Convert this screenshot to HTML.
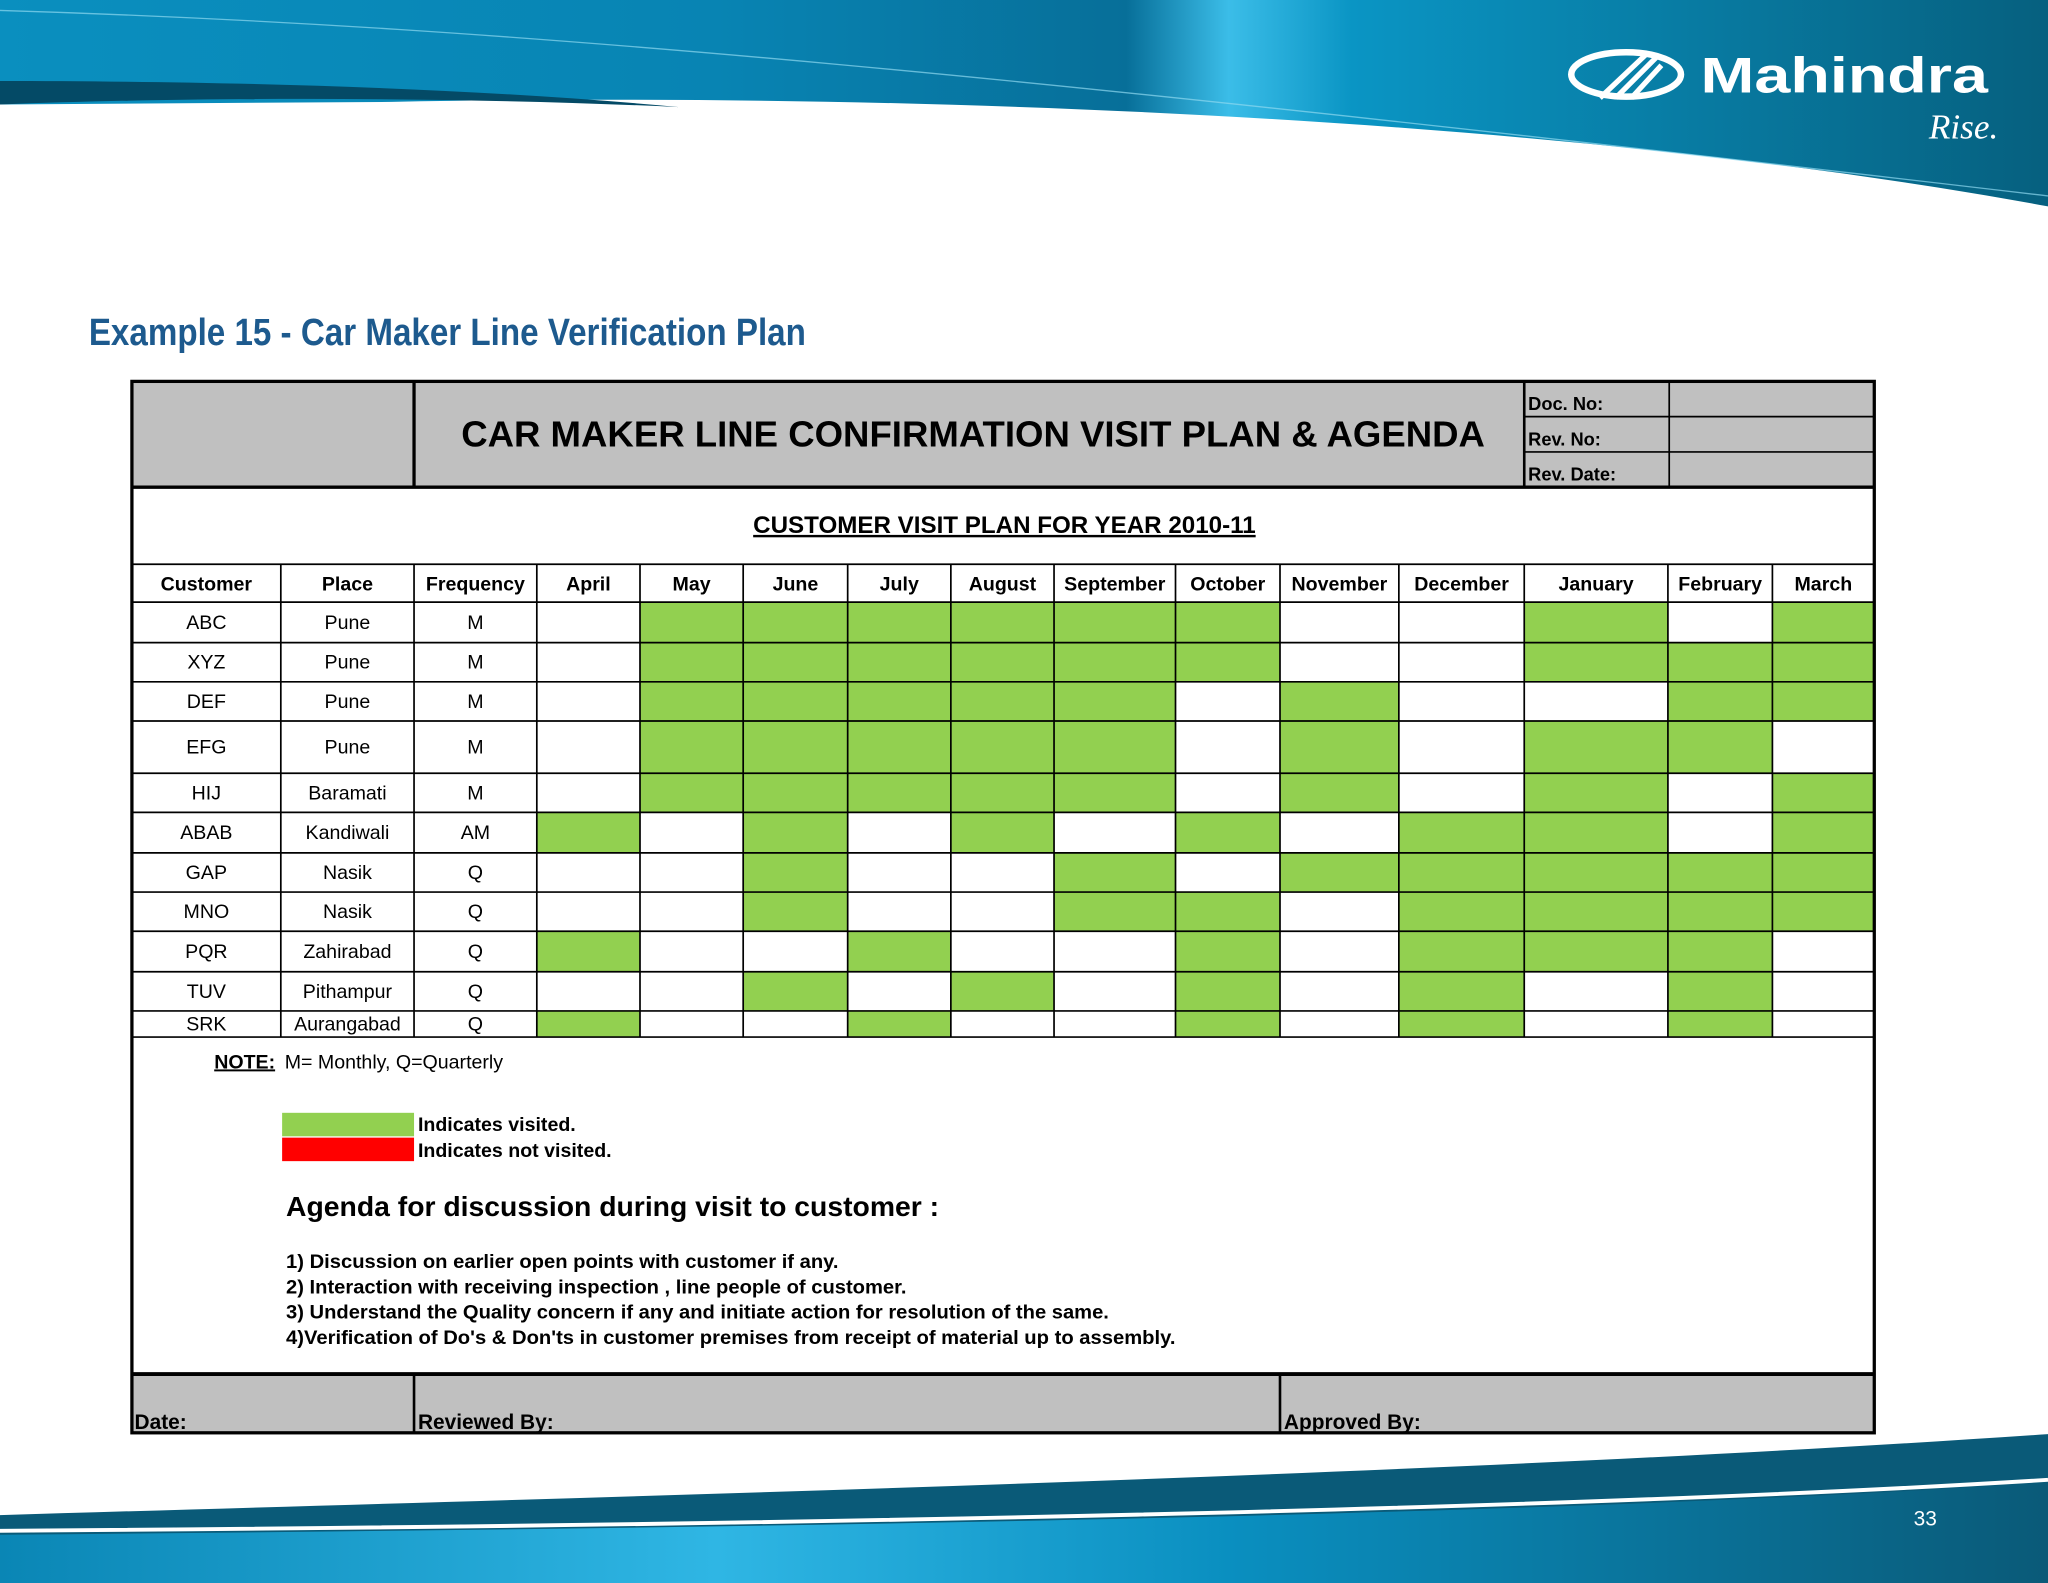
<!DOCTYPE html>
<html><head><meta charset="utf-8"><style>
html,body{margin:0;padding:0;background:#fff;}
#wrap{width:1568px;height:1211.2px;transform:scale(1.30612);transform-origin:0 0;position:relative;}
svg{display:block;font-family:"Liberation Sans",sans-serif;}
</style></head><body>
<div id="wrap">
<svg id="s" width="1568" height="1212" viewBox="0 0 1568 1212">
<defs>
<linearGradient id="gt" x1="0" x2="1" y1="0" y2="0">
<stop offset="0" stop-color="#0a8fbf"/><stop offset="0.35" stop-color="#0884b3"/><stop offset="0.55" stop-color="#076f99"/>
<stop offset="0.6" stop-color="#3bbde8"/><stop offset="0.66" stop-color="#0a95c4"/><stop offset="1" stop-color="#06607f"/></linearGradient>
<linearGradient id="gb" x1="0" x2="1" y1="0" y2="0">
<stop offset="0" stop-color="#0a86b5"/><stop offset="0.35" stop-color="#2fb6e4"/><stop offset="0.6" stop-color="#0a8fc0"/><stop offset="1" stop-color="#0a5a78"/></linearGradient>
</defs>
<g>
<path d="M0,0 H1568 V158 C1200,90 700,70 300,78 L0,80 Z" fill="url(#gt)"/>
<path d="M0,62 C150,62 350,66 520,82 C350,74 150,74 0,80 Z" fill="#044a66"/>
<path d="M0,8 C400,20 800,60 1568,150" stroke="#8fd8f0" stroke-width="1" fill="none" opacity="0.7"/>
</g>
<g>
<ellipse cx="1245" cy="57" rx="42" ry="17" fill="none" stroke="#fff" stroke-width="5"/>
<path d="M1225,75 L1262,40 M1237,75 L1268,44 M1249,75 L1272,50" stroke="#fff" stroke-width="4"/>
<text x="1302" y="71" fill="#fff" font-size="38" font-weight="bold" textLength="220" lengthAdjust="spacingAndGlyphs">Mahindra</text>
<text x="1530" y="106" fill="#fff" font-size="27" font-style="italic" text-anchor="end" font-family="Liberation Serif">Rise.</text>
</g>
<g>
<path d="M0,1160 C500,1145 1100,1130 1568,1098 V1212 H0 Z" fill="#0a5a78"/>
<path d="M0,1175 C600,1170 1200,1160 1568,1135 V1212 H0 Z" fill="url(#gb)"/>
<path d="M0,1172 C600,1168 1200,1156 1568,1133" stroke="#ffffff" stroke-width="3" fill="none"/>
<text x="1474" y="1168" fill="#fff" font-size="16" text-anchor="middle">33</text>
</g>
<text x="68" y="264" fill="#1d5a8e" font-size="29" font-weight="bold" textLength="549" lengthAdjust="spacingAndGlyphs">Example 15 - Car Maker Line Verification Plan</text>
<g id="tbl"></g>
</svg>
</div>
<script>
const customers=["ABC","XYZ","DEF","EFG","HIJ","ABAB","GAP","MNO","PQR","TUV","SRK"];
const places=["Pune","Pune","Pune","Pune","Baramati","Kandiwali","Nasik","Nasik","Zahirabad","Pithampur","Aurangabad"];
const freqs=["M","M","M","M","M","AM","Q","Q","Q","Q","Q"];
const months=["April","May","June","July","August","September","October","November","December","January","February","March"];
const visitedABC=[0,1,1,1,1,1,1,0,0,1,0,1];
const visitedXYZ=[0,1,1,1,1,1,1,0,0,1,1,1];
const visitedDEF=[0,1,1,1,1,1,0,1,0,0,1,1];
const visitedEFG=[0,1,1,1,1,1,0,1,0,1,1,0];
const visitedHIJ=[0,1,1,1,1,1,0,1,0,1,0,1];
const visitedABAB=[1,0,1,0,1,0,1,0,1,1,0,1];
const visitedGAP=[0,0,1,0,0,1,0,1,1,1,1,1];
const visitedMNO=[0,0,1,0,0,1,1,0,1,1,1,1];
const visitedPQR=[1,0,0,1,0,0,1,0,1,1,1,0];
const visitedTUV=[0,0,1,0,1,0,1,0,1,0,1,0];
const visitedSRK=[1,0,0,1,0,0,1,0,1,0,1,0];
const visits=[visitedABC,visitedXYZ,visitedDEF,visitedEFG,visitedHIJ,visitedABAB,visitedGAP,visitedMNO,visitedPQR,visitedTUV,visitedSRK];

const NS="http://www.w3.org/2000/svg";
const g=document.getElementById('tbl');
function mk(t,a,txt){const e=document.createElementNS(NS,t);for(const k in a)e.setAttribute(k,a[k]);if(txt!==undefined)e.textContent=txt;g.appendChild(e);return e;}
const colX=[101,215,317,411,490,569,649,728,807,900,980,1071,1167,1277,1357,1435];
const rowY=[461,492,522,552,592,622,653,683,713,744,774,794];
const L=101,R=1435;
let e;
e=mk('rect',{x:L,y:292,width:216,height:81,fill:'#c0c0c0'});

e=mk('rect',{x:317,y:292,width:850,height:81,fill:'#c0c0c0'});

e=mk('rect',{x:1167,y:292,width:268,height:81,fill:'#c0c0c0'});

e=mk('text',{x:745,y:342,'font-size':28,'font-weight':'bold','text-anchor':'middle',fill:'#000'},'CAR MAKER LINE CONFIRMATION VISIT PLAN & AGENDA');

const docLabels=["Doc. No:","Rev. No:","Rev. Date:"];
docLabels.forEach((d,i)=>{e=mk('text',{x:1170,y:314+i*27,'font-size':14,'font-weight':'bold'},d);
});
e=mk('text',{x:769,y:408,'font-size':18.5,'font-weight':'bold','text-anchor':'middle','text-decoration':'underline'},'CUSTOMER VISIT PLAN FOR YEAR 2010-11');

visits.forEach((row,r)=>row.forEach((v,c)=>{if(v){e=mk('rect',{x:colX[c+3],y:rowY[r],width:colX[c+4]-colX[c+3],height:rowY[r+1]-rowY[r],fill:'#92d050'});
}}));
const heads=["Customer","Place","Frequency"].concat(months);
heads.forEach((h,i)=>{e=mk('text',{x:(colX[i]+colX[i+1])/2,y:452,'font-size':15,'font-weight':'bold','text-anchor':'middle'},h);
});
customers.forEach((c,r)=>{const cy=(rowY[r]+rowY[r+1])/2+5;
[c,places[r],freqs[r]].forEach((t,i)=>{e=mk('text',{x:(colX[i]+colX[i+1])/2,y:cy,'font-size':15,'text-anchor':'middle'},t);
});});
function ln(x1,y1,x2,y2,w){e=mk('line',{x1,y1,x2,y2,stroke:'#000','stroke-width':w});}
rowY.forEach(y=>ln(L,y,R,y,1.3));
ln(L,432,R,432,1.3);
colX.forEach(x=>ln(x,432,x,794,1.3));
ln(317,292,317,373,2.5);ln(1167,292,1167,373,2);ln(1278,292,1278,373,1.3);
ln(1167,319,R,319,1.3);ln(1167,346,R,346,1.3);
ln(L,373,R,373,2.5);
e=mk('rect',{x:L,y:1052,width:R-L,height:45,fill:'#c0c0c0'});
ln(L,1052,R,1052,3);ln(317,1052,317,1097,2);ln(980,1052,980,1097,2);
[["Date:",103],["Reviewed By:",320],["Approved By:",983]].forEach(([t,x])=>{e=mk('text',{x,y:1094,'font-size':16,'font-weight':'bold'},t);
});
e=mk('rect',{x:L,y:292,width:R-L,height:805,fill:'none',stroke:'#000','stroke-width':2.5});
e=mk('text',{x:164,y:818,'font-size':15,'font-weight':'bold','text-decoration':'underline'},'NOTE:');
e=mk('text',{x:218,y:818,'font-size':15},'M= Monthly, Q=Quarterly');
e=mk('rect',{x:216,y:852,width:101,height:18,fill:'#92d050'});
e=mk('rect',{x:216,y:871,width:101,height:18,fill:'#ff0000'});
e=mk('text',{x:320,y:866,'font-size':15,'font-weight':'bold'},'Indicates visited.');
e=mk('text',{x:320,y:886,'font-size':15,'font-weight':'bold'},'Indicates not visited.');
e=mk('text',{x:219,y:931,'font-size':21,'font-weight':'bold',textLength:500,lengthAdjust:'spacingAndGlyphs'},'Agenda for discussion during visit to customer :');
const agenda=["1) Discussion on earlier open points with customer if any.","2) Interaction with receiving inspection , line people of customer.","3) Understand the Quality concern if any and initiate action for resolution of the same.","4)Verification of Do's & Don'ts in customer premises from receipt of material up to assembly."];
const agendaW=[423,475,630,681];
agenda.forEach((t,i)=>{e=mk('text',{x:219,y:971+i*19.3,'font-size':15,'font-weight':'bold',textLength:agendaW[i],lengthAdjust:'spacingAndGlyphs'},t);});
</script>
</body></html>
